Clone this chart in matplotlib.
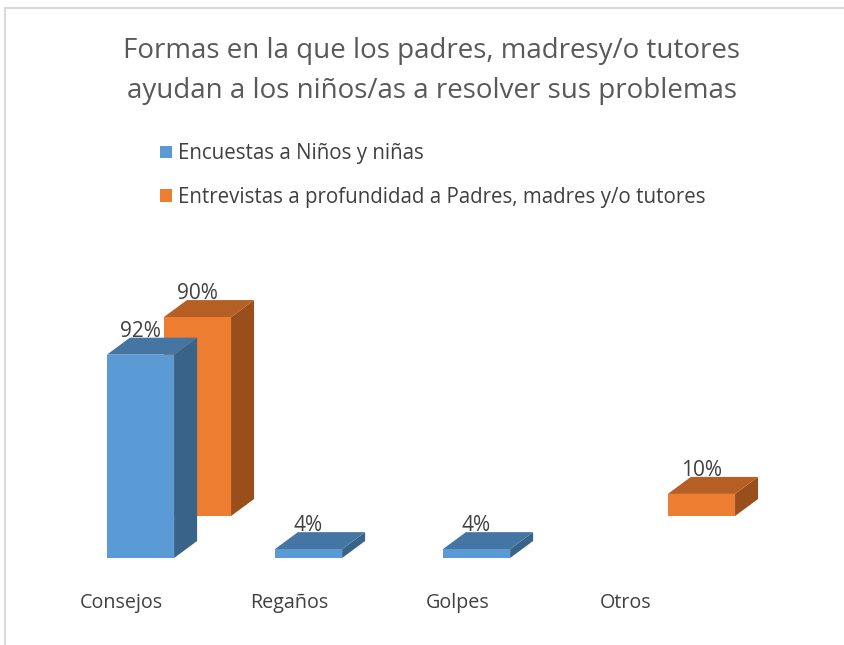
import matplotlib.pyplot as plt
from matplotlib.patches import Polygon, Patch
from matplotlib.lines import Line2D

plt.rcParams['font.family'] = ['Open Sans', 'DejaVu Sans']

categories = ['Consejos', 'Regaños', 'Golpes', 'Otros']
ninos = [92, 4, 4, 0]
padres = [90, 0, 0, 10]
series_names = ['Encuestas a Niños y niñas',
                'Entrevistas a profundidad a Padres, madres y/o tutores']
title = ('Formas en la que los padres, madresy/o tutores\n'
         'ayudan a los niños/as a resolver sus problemas')

# colours: front, top, side
blue = ('#5B9BD5', '#4575A3', '#3A6389')
orange = ('#ED7D31', '#B55F25', '#9A4E1C')
text_col = '#404040'

W, H = 845, 645
fig = plt.figure(figsize=(W / 100, H / 100), dpi=100)
ax = fig.add_axes([0, 0, 1, 1])
# 1 category = 168 px, 1 % = 2.21 px
ax.set_xlim(-140.5 / 168, (W - 140.5) / 168)
ax.set_ylim(-(H - 558) / 2.21, 558 / 2.21)
ax.axis('off')

bar_w = 0.4
depth_dx, depth_dy = 0.137, 7.7      # bar depth
row_dx, row_dy = 0.339, 19.0         # offset of the back series


def draw_bar(xc, base, v, cols, z):
    x0, x1 = xc - bar_w / 2, xc + bar_w / 2
    top = base + v
    front = [(x0, base), (x1, base), (x1, top), (x0, top)]
    topf = [(x0, top), (x0 + depth_dx, top + depth_dy),
            (x1 + depth_dx, top + depth_dy), (x1, top)]
    side = [(x1, base), (x1 + depth_dx, base + depth_dy),
            (x1 + depth_dx, top + depth_dy), (x1, top)]
    for pts, c in [(side, cols[2]), (topf, cols[1]), (front, cols[0])]:
        ax.add_patch(Polygon(pts, closed=True, facecolor=c, edgecolor='none', zorder=z))


# back row first (orange), then front row (blue)
for i, v in enumerate(padres):
    if v > 0:
        xc = i + row_dx
        draw_bar(xc, row_dy, v, orange, 2)
        ax.text(xc, row_dy + v + depth_dy + 0.5, f'{v}%', ha='center', va='baseline',
                fontsize=15, color=text_col, zorder=5)

for i, v in enumerate(ninos):
    if v > 0:
        draw_bar(i, 0, v, blue, 3)
        ax.text(i, v + depth_dy + 0.5, f'{v}%', ha='center', va='baseline',
                fontsize=15, color=text_col, zorder=5)

for i, c in enumerate(categories):
    ax.text(i - 0.113, -20.4, c, ha='center', va='center', fontsize=14.2, color=text_col)

fig.text(432 / W, 1 - 71 / H, title, ha='center', va='center', fontsize=20,
         color='#595959', linespacing=1.58)

handles = [Patch(facecolor=blue[0]), Patch(facecolor=orange[0])]
fig.legend(handles, series_names, loc='upper left', bbox_to_anchor=(142 / W, 1 - 125 / H),
           frameon=False, fontsize=14.8, handlelength=0.55, handleheight=0.55,
           handletextpad=0.3, labelspacing=1.08, labelcolor=text_col)

# chart area border (only top and left visible)
fig.add_artist(Line2D([5 / W, 1], [1 - 8 / H, 1 - 8 / H], color='#D9D9D9', lw=1.5))
fig.add_artist(Line2D([5 / W, 5 / W], [0, 1 - 8 / H], color='#D9D9D9', lw=1.5))

fig.savefig('out.png', dpi=100, facecolor='white')
